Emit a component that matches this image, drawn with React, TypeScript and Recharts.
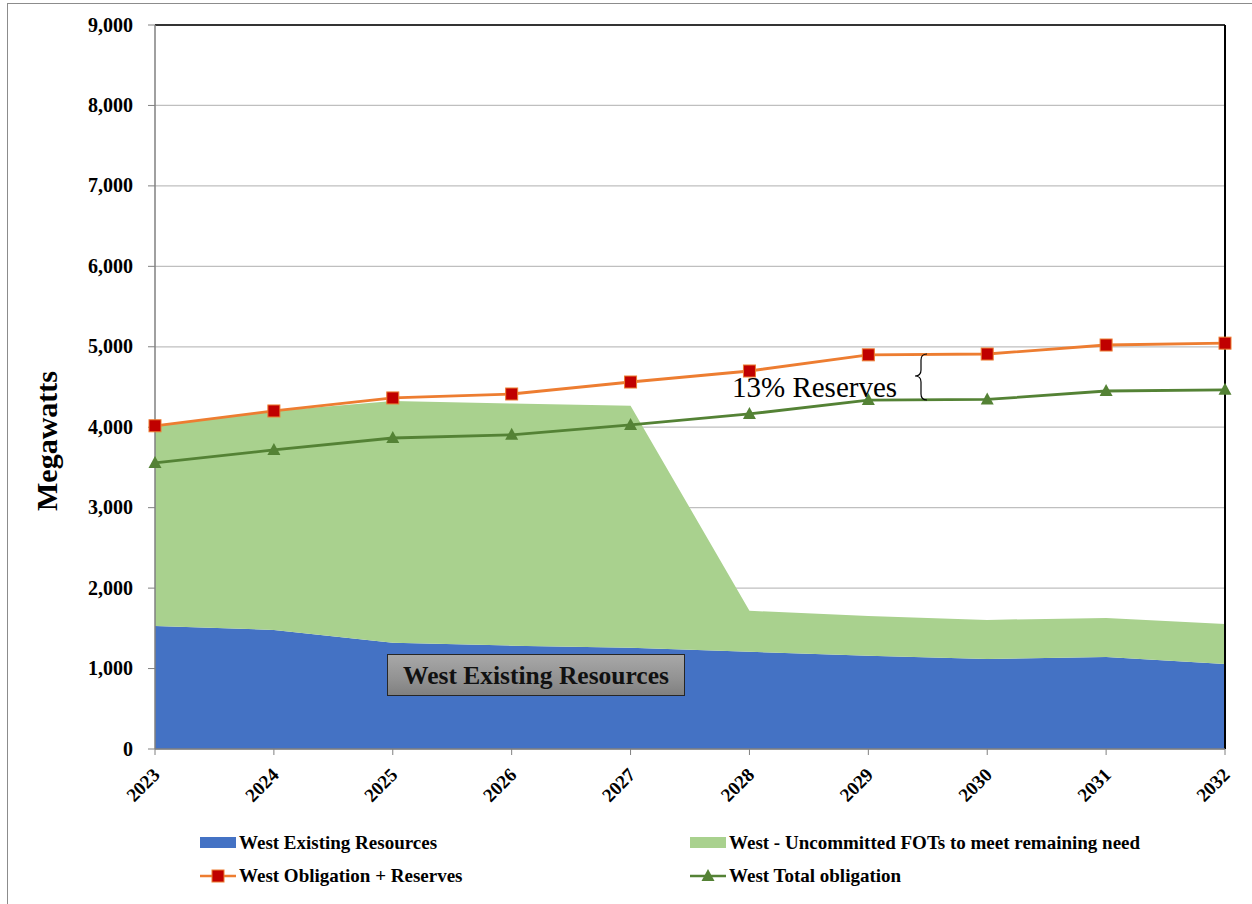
import React from "react";
import {
  ComposedChart,
  Area,
  Line,
  XAxis,
  YAxis,
  CartesianGrid,
  ReferenceLine,
  Legend,
  Label,
} from "recharts";

const years = [2023, 2024, 2025, 2026, 2027, 2028, 2029, 2030, 2031, 2032];
const existingResources = [1530, 1480, 1320, 1285, 1258, 1208, 1158, 1120, 1145, 1058];
const uncommittedFOTs = [2488, 2722, 3006, 3010, 3010, 510, 496, 485, 485, 497];
const obligationPlusReserves = [4018, 4202, 4364, 4413, 4562, 4699, 4900, 4910, 5022, 5045];
const totalObligation = [3556, 3718, 3866, 3905, 4028, 4165, 4338, 4345, 4450, 4465];
const yTicks = [0, 1000, 2000, 3000, 4000, 5000, 6000, 7000, 8000, 9000];

const data = years.map((y, i) => ({
  year: y,
  existing: existingResources[i],
  fots: uncommittedFOTs[i],
  oblRes: obligationPlusReserves[i],
  total: totalObligation[i],
}));

const FONT = '"Liberation Serif", "Times New Roman", serif';
const BLUE = "#4472C4";
const LGREEN = "#A9D18E";
const ORANGE = "#ED7D31";
const RED = "#C00000";
const DGREEN = "#548235";

const SquareDot = (props: any) => {
  const { cx, cy } = props;
  if (cx == null || cy == null) return null;
  return <rect x={cx - 6} y={cy - 6} width={12} height={12} fill={RED} stroke={ORANGE} strokeWidth={1} />;
};

const TriDot = (props: any) => {
  const { cx, cy } = props;
  if (cx == null || cy == null) return null;
  return <path d={`M${cx},${cy - 7} L${cx + 6.5},${cy + 5} L${cx - 6.5},${cy + 5} Z`} fill={DGREEN} />;
};

const XTick = (props: any) => {
  const { x, y, payload } = props;
  const ax = x + 6;
  const ay = y + 19;
  return (
    <text
      x={ax}
      y={ay}
      transform={`rotate(-45 ${ax} ${ay})`}
      textAnchor="end"
      fontFamily={FONT}
      fontWeight="bold"
      fontSize={19}
      fill="#000"
    >
      {payload.value}
    </text>
  );
};

const YTick = (props: any) => {
  const { x, y, payload } = props;
  return (
    <text x={x} y={y + 6.5} textAnchor="end" fontFamily={FONT} fontWeight="bold" fontSize={20} fill="#000">
      {Number(payload.value).toLocaleString("en-US")}
    </text>
  );
};

const legendItems = [
  { label: "West Existing Resources", kind: "area", color: BLUE, left: 200, top: 0 },
  { label: "West - Uncommitted FOTs to meet remaining need", kind: "area", color: LGREEN, left: 690, top: 0 },
  { label: "West Obligation + Reserves", kind: "square", color: ORANGE, left: 200, top: 33 },
  { label: "West Total obligation", kind: "tri", color: DGREEN, left: 690, top: 33 },
];

const LegendContent = () => (
  <div style={{ position: "relative", width: 1252, height: 60 }}>
    {legendItems.map((it) => (
      <div
        key={it.label}
        style={{
          position: "absolute",
          left: it.left,
          top: it.top,
          display: "flex",
          alignItems: "center",
          fontFamily: FONT,
          fontWeight: "bold",
          fontSize: 19,
          color: "#000",
          whiteSpace: "nowrap",
          height: 24,
        }}
      >
        <svg width={39} height={20}>
          {it.kind === "area" && <rect x={0} y={4} width={36} height={11} fill={it.color} />}
          {it.kind === "square" && (
            <g>
              <line x1={0} y1={10} x2={36} y2={10} stroke={ORANGE} strokeWidth={2.5} />
              <rect x={12} y={4} width={12} height={12} fill={RED} stroke={ORANGE} strokeWidth={1} />
            </g>
          )}
          {it.kind === "tri" && (
            <g>
              <line x1={0} y1={10} x2={36} y2={10} stroke={DGREEN} strokeWidth={2.5} />
              <path d="M18,3 L24.5,15 L11.5,15 Z" fill={DGREEN} />
            </g>
          )}
        </svg>
        <span>{it.label}</span>
      </div>
    ))}
  </div>
);

export default function App() {
  return (
    <div
      style={{
        position: "absolute",
        left: 0,
        top: 0,
        width: 1252,
        height: 904,
        overflow: "hidden",
        background: "#fff",
      }}
    >
      <div
        style={{
          position: "absolute",
          left: 7,
          top: 3,
          width: 1300,
          height: 1000,
          border: "1px solid #8c8c8c",
          boxSizing: "border-box",
        }}
      />
      <div style={{ position: "absolute", left: 0, top: 0 }}>
        <ComposedChart
          width={1252}
          height={904}
          data={data}
          margin={{ top: 25, right: 27, left: 0, bottom: 95 }}
        >
          <CartesianGrid vertical={false} stroke="#BFBFBF" strokeWidth={1.3} />
          <XAxis
            dataKey="year"
            type="number"
            domain={[2023, 2032]}
            ticks={years}
            interval={0}
            height={60}
            tick={<XTick />}
            tickSize={6}
            tickMargin={2}
            axisLine={{ stroke: "#808080", strokeWidth: 1.5 }}
            tickLine={{ stroke: "#808080" }}
          />
          <YAxis
            type="number"
            domain={[0, 9000]}
            ticks={yTicks}
            interval={0}
            width={155}
            tick={<YTick />}
            tickSize={7}
            tickMargin={15}
            axisLine={{ stroke: "#808080", strokeWidth: 1.5 }}
            tickLine={{ stroke: "#808080" }}
          >
            <Label
              content={() => (
                <text
                  x={57}
                  y={441}
                  transform="rotate(-90 57 441)"
                  textAnchor="middle"
                  fontFamily={FONT}
                  fontWeight="bold"
                  fontSize={30}
                  fill="#000"
                >
                  Megawatts
                </text>
              )}
            />
          </YAxis>
          <Area
            type="linear"
            dataKey="existing"
            stackId="1"
            fill={BLUE}
            fillOpacity={1}
            stroke="none"
            isAnimationActive={false}
            name="West Existing Resources"
          />
          <Area
            type="linear"
            dataKey="fots"
            stackId="1"
            fill={LGREEN}
            fillOpacity={1}
            stroke="none"
            isAnimationActive={false}
            name="West - Uncommitted FOTs to meet remaining need"
          />
          <ReferenceLine y={9000} stroke="#000" strokeWidth={1.5} />
          <ReferenceLine x={2032} stroke="#000" strokeWidth={2} />
          <Line
            type="linear"
            dataKey="oblRes"
            stroke={ORANGE}
            strokeWidth={2.8}
            dot={<SquareDot />}
            activeDot={false}
            isAnimationActive={false}
            name="West Obligation + Reserves"
          />
          <Line
            type="linear"
            dataKey="total"
            stroke={DGREEN}
            strokeWidth={2.8}
            dot={<TriDot />}
            activeDot={false}
            isAnimationActive={false}
            name="West Total obligation"
          />
          <Legend
            layout="horizontal"
            verticalAlign="middle"
            align="center"
            content={<LegendContent />}
            wrapperStyle={{ left: 0, top: 831, width: 1252, height: 60 }}
          />
        </ComposedChart>
      </div>
      <div
        style={{
          position: "absolute",
          left: 387,
          top: 654,
          width: 298,
          height: 42,
          boxSizing: "border-box",
          border: "1.5px solid #262626",
          background: "linear-gradient(#a8a8a8, #929292 60%, #808080)",
          display: "flex",
          alignItems: "center",
          justifyContent: "center",
          fontFamily: FONT,
          fontWeight: "bold",
          fontSize: 25.5,
          color: "#111",
          paddingTop: 2,
        }}
      >
        West Existing Resources
      </div>
      <svg
        width={1252}
        height={904}
        style={{ position: "absolute", left: 0, top: 0, pointerEvents: "none" }}
      >
        <text x={732} y={397} fontFamily={FONT} fontSize={29} fill="#000">
          13% Reserves
        </text>
        <path
          d="M927,354 Q921,354 921,360 L921,370 Q921,376 915,376 Q921,376 921,382 L921,394 Q921,400 927,400"
          fill="none"
          stroke="#000"
          strokeWidth={1.2}
        />
      </svg>
    </div>
  );
}
